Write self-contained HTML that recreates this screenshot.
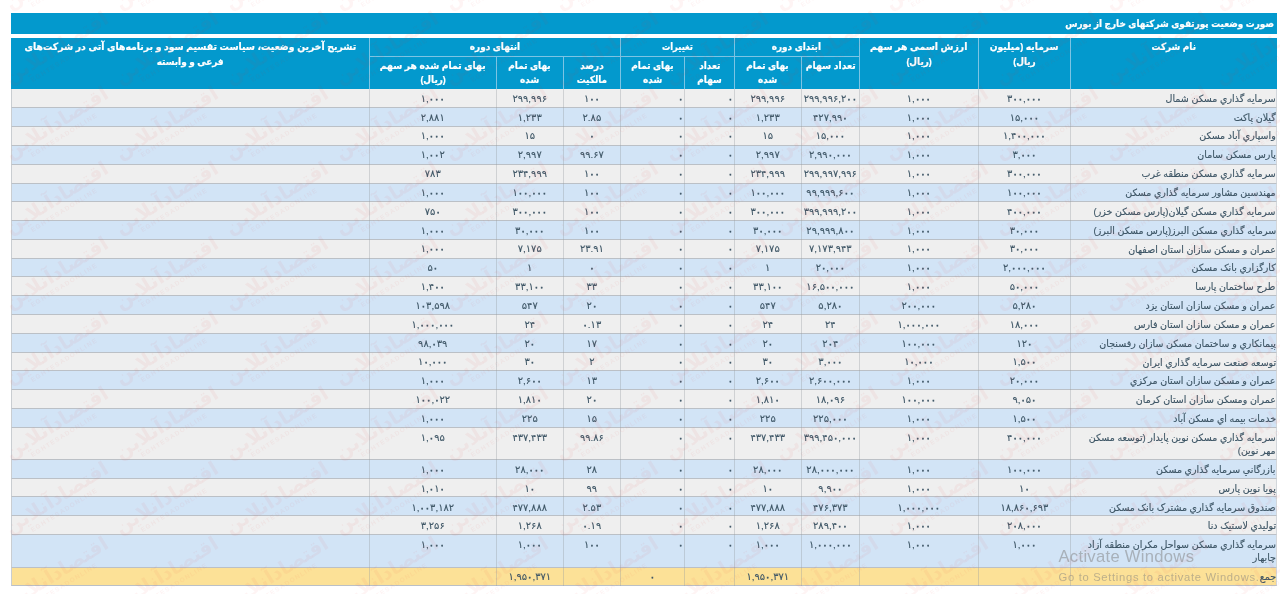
<!DOCTYPE html>
<html lang="fa" dir="ltr">
<head>
<meta charset="utf-8">
<title>صورت وضعیت پورتفوی شرکتهای خارج از بورس</title>
<style>
html,body{margin:0;padding:0;background:#fff;}
body{width:1280px;height:594px;overflow:hidden;font-family:"Liberation Sans","DejaVu Sans",sans-serif;}
#pg{position:relative;width:1280px;height:594px;overflow:hidden;background:#fff;}
#title{-webkit-text-stroke:.22px #fff;position:absolute;left:10.5px;top:12.5px;width:1266.1px;height:21.3px;background:#0399cd;color:#fff;font-weight:bold;font-size:9.9px;line-height:21.3px;text-align:right;direction:rtl;box-sizing:border-box;padding-right:2.5px;}
#hbg{position:absolute;background:#0399cd;}
.h{position:absolute;color:#fff;font-weight:bold;font-size:9.9px;line-height:14.2px;text-align:center;direction:rtl;box-sizing:border-box;padding-top:2.1px;overflow:hidden;white-space:nowrap;-webkit-text-stroke:.22px #fff;}
.h2{padding-top:3.0px;}
.hv{position:absolute;width:1px;background:#7cc4e4;}
.hh{position:absolute;height:1px;background:#7cc4e4;}
.row{position:absolute;left:10.5px;width:1266.3px;box-sizing:border-box;border-bottom:1px solid #bbc0c6;border-left:1px solid #c9cdd1;border-right:1px solid #d3d7db;}
.ra{background:#efefef;}
.rb{background:#d2e4f6;}
.rt{background:#fce197;}
.c{position:absolute;color:#3e5666;font-size:9.9px;line-height:17.5px;padding-top:0px;box-sizing:border-box;white-space:nowrap;overflow:hidden;direction:rtl;}
.nu{text-align:center;-webkit-text-stroke:.12px #3e5666;}
.zr{text-align:right;padding-right:1.3px;}
.nm{text-align:right;padding-right:.9px;-webkit-text-stroke:.15px #3e5666;line-height:13.1px;padding-top:2.1px;}
.vl{position:absolute;width:1px;background:rgba(150,155,160,.36);}
#aw1{position:absolute;left:1058.5px;top:547.3px;font-size:16.6px;letter-spacing:.3px;color:rgba(125,125,125,.5);white-space:nowrap;}
#aw2{position:absolute;left:1058.5px;top:570.5px;font-size:11.2px;letter-spacing:.7px;color:rgba(125,125,125,.5);white-space:nowrap;}
.h span,#title span{display:inline-block;transform:scaleX(.9);transform-origin:50% 50%;}
#title span{transform-origin:100% 50%;}
.nm span{display:inline-block;transform:scaleX(.96);transform-origin:100% 50%;}
#wm2{position:absolute;left:0;top:0;width:1280px;height:594px;overflow:hidden;pointer-events:none;}
.w{position:absolute;width:130px;height:40px;margin:-20px 0 0 -65px;transform:rotate(-32deg);text-align:center;color:rgba(232,50,50,.055);direction:rtl;white-space:nowrap;}
.w b{display:block;font-size:19.5px;line-height:22px;font-weight:bold;}
.w i{display:block;font-style:normal;font-size:6.5px;line-height:7px;letter-spacing:1.2px;direction:ltr;font-weight:bold;}
.c b{font-weight:normal;-webkit-text-stroke:.55px #3e5666;}

</style>
</head>
<body>
<div id="pg">

<div id="title"><span>صورت وضعیت پورتفوی شرکتهای خارج از بورس</span></div>
<div id="hbg" style="left:10.50px;top:38.30px;width:1266.10px;height:50.30px"></div>
<div class="h " style="left:1070.50px;top:38.30px;width:206.10px;height:50.30px"><span>نام شرکت</span></div>
<div class="h " style="left:978.25px;top:38.30px;width:92.25px;height:50.30px"><span style="transform:scaleX(0.926)">سرمایه (میلیون</span><br><span>ریال)</span></div>
<div class="h " style="left:859.40px;top:38.30px;width:118.85px;height:50.30px"><span style="transform:scaleX(0.9435)">ارزش اسمی هر سهم</span><br><span>(ریال)</span></div>
<div class="h " style="left:734.25px;top:38.30px;width:125.15px;height:17.95px"><span>ابتدای دوره</span></div>
<div class="h h2" style="left:801.25px;top:56.25px;width:58.15px;height:32.35px"><span style="transform:scaleX(0.9375)">تعداد سهام</span></div>
<div class="h h2" style="left:734.25px;top:56.25px;width:67.00px;height:32.35px"><span>بهای تمام</span><br><span>شده</span></div>
<div class="h " style="left:620.50px;top:38.30px;width:113.75px;height:17.95px"><span style="transform:scaleX(0.843)">تغییرات</span></div>
<div class="h h2" style="left:684.50px;top:56.25px;width:49.75px;height:32.35px"><span>تعداد</span><br><span>سهام</span></div>
<div class="h h2" style="left:620.50px;top:56.25px;width:64.00px;height:32.35px"><span>بهای تمام</span><br><span>شده</span></div>
<div class="h " style="left:369.25px;top:38.30px;width:251.25px;height:17.95px"><span>انتهای دوره</span></div>
<div class="h h2" style="left:563.25px;top:56.25px;width:57.25px;height:32.35px"><span>درصد</span><br><span>مالکیت</span></div>
<div class="h h2" style="left:496.25px;top:56.25px;width:67.00px;height:32.35px"><span>بهای تمام</span><br><span>شده</span></div>
<div class="h h2" style="left:369.25px;top:56.25px;width:127.00px;height:32.35px"><span style="transform:scaleX(0.932)">بهای تمام شده هر سهم</span><br><span>(ریال)</span></div>
<div class="h " style="left:10.50px;top:38.30px;width:358.75px;height:50.30px"><span style="transform:scaleX(0.94)">تشریح آخرین وضعیت، سیاست تقسیم سود و برنامه‌های آتی در شرکت‌های</span><br><span>فرعی و وابسته</span></div>
<div class="hv" style="left:368.75px;top:38.30px;height:50.30px"></div>
<div class="hv" style="left:495.75px;top:56.25px;height:32.35px"></div>
<div class="hv" style="left:562.75px;top:56.25px;height:32.35px"></div>
<div class="hv" style="left:620.00px;top:38.30px;height:50.30px"></div>
<div class="hv" style="left:684.00px;top:56.25px;height:32.35px"></div>
<div class="hv" style="left:733.75px;top:38.30px;height:50.30px"></div>
<div class="hv" style="left:800.75px;top:56.25px;height:32.35px"></div>
<div class="hv" style="left:858.90px;top:38.30px;height:50.30px"></div>
<div class="hv" style="left:977.75px;top:38.30px;height:50.30px"></div>
<div class="hv" style="left:1070.00px;top:38.30px;height:50.30px"></div>
<div class="hh" style="left:369.25px;top:55.75px;width:251.25px"></div>
<div class="hh" style="left:620.50px;top:55.75px;width:113.75px"></div>
<div class="hh" style="left:734.25px;top:55.75px;width:125.15px"></div>
<div class="row ra" style="top:88.60px;height:19.79px"></div>
<div class="c nu" style="left:369.25px;top:89.70px;width:127.00px;height:19.78px;"><span>۱,<b>۰۰۰</b></span></div>
<div class="c nu" style="left:496.25px;top:89.70px;width:67.00px;height:19.78px;"><span>۲۹۹,۹۹۶</span></div>
<div class="c nu" style="left:563.25px;top:89.70px;width:57.25px;height:19.78px;"><span>۱<b>۰۰</b></span></div>
<div class="c zr" style="left:620.50px;top:89.70px;width:64.00px;height:19.78px;"><span><b>۰</b></span></div>
<div class="c zr" style="left:684.50px;top:89.70px;width:49.75px;height:19.78px;"><span><b>۰</b></span></div>
<div class="c nu" style="left:734.25px;top:89.70px;width:67.00px;height:19.78px;"><span>۲۹۹,۹۹۶</span></div>
<div class="c nu" style="left:801.25px;top:89.70px;width:58.15px;height:19.78px;"><span>۲۹۹,۹۹۶,۲<b>۰۰</b></span></div>
<div class="c nu" style="left:859.40px;top:89.70px;width:118.85px;height:19.78px;"><span>۱,<b>۰۰۰</b></span></div>
<div class="c nu" style="left:978.25px;top:89.70px;width:92.25px;height:19.78px;"><span>۳<b>۰۰</b>,<b>۰۰۰</b></span></div>
<div class="c nm" style="left:1070.50px;top:89.70px;width:206.10px;height:19.78px;"><span>سرمايه گذاري مسکن شمال</span></div>
<div class="row rb" style="top:108.38px;height:18.79px"></div>
<div class="c nu" style="left:369.25px;top:108.54px;width:127.00px;height:18.78px;"><span>۲,۸۸۱</span></div>
<div class="c nu" style="left:496.25px;top:108.54px;width:67.00px;height:18.78px;"><span>۱,۲۳۳</span></div>
<div class="c nu" style="left:563.25px;top:108.54px;width:57.25px;height:18.78px;"><span>۲.۸۵</span></div>
<div class="c zr" style="left:620.50px;top:108.54px;width:64.00px;height:18.78px;"><span><b>۰</b></span></div>
<div class="c zr" style="left:684.50px;top:108.54px;width:49.75px;height:18.78px;"><span><b>۰</b></span></div>
<div class="c nu" style="left:734.25px;top:108.54px;width:67.00px;height:18.78px;"><span>۱,۲۳۳</span></div>
<div class="c nu" style="left:801.25px;top:108.54px;width:58.15px;height:18.78px;"><span>۴۲۷,۹۹<b>۰</b></span></div>
<div class="c nu" style="left:859.40px;top:108.54px;width:118.85px;height:18.78px;"><span>۱,<b>۰۰۰</b></span></div>
<div class="c nu" style="left:978.25px;top:108.54px;width:92.25px;height:18.78px;"><span>۱۵,<b>۰۰۰</b></span></div>
<div class="c nm" style="left:1070.50px;top:108.54px;width:206.10px;height:18.78px;"><span>گيلان پاکت</span></div>
<div class="row ra" style="top:127.17px;height:18.79px"></div>
<div class="c nu" style="left:369.25px;top:127.38px;width:127.00px;height:18.78px;"><span>۱,<b>۰۰۰</b></span></div>
<div class="c nu" style="left:496.25px;top:127.38px;width:67.00px;height:18.78px;"><span>۱۵</span></div>
<div class="c nu" style="left:563.25px;top:127.38px;width:57.25px;height:18.78px;"><span><b>۰</b></span></div>
<div class="c zr" style="left:620.50px;top:127.38px;width:64.00px;height:18.78px;"><span><b>۰</b></span></div>
<div class="c zr" style="left:684.50px;top:127.38px;width:49.75px;height:18.78px;"><span><b>۰</b></span></div>
<div class="c nu" style="left:734.25px;top:127.38px;width:67.00px;height:18.78px;"><span>۱۵</span></div>
<div class="c nu" style="left:801.25px;top:127.38px;width:58.15px;height:18.78px;"><span>۱۵,<b>۰۰۰</b></span></div>
<div class="c nu" style="left:859.40px;top:127.38px;width:118.85px;height:18.78px;"><span>۱,<b>۰۰۰</b></span></div>
<div class="c nu" style="left:978.25px;top:127.38px;width:92.25px;height:18.78px;"><span>۱,۴<b>۰۰</b>,<b>۰۰۰</b></span></div>
<div class="c nm" style="left:1070.50px;top:127.38px;width:206.10px;height:18.78px;"><span>واسپاري آباد مسکن</span></div>
<div class="row rb" style="top:145.95px;height:18.79px"></div>
<div class="c nu" style="left:369.25px;top:146.22px;width:127.00px;height:18.78px;"><span>۱,<b>۰۰</b>۲</span></div>
<div class="c nu" style="left:496.25px;top:146.22px;width:67.00px;height:18.78px;"><span>۲,۹۹۷</span></div>
<div class="c nu" style="left:563.25px;top:146.22px;width:57.25px;height:18.78px;"><span>۹۹.۶۷</span></div>
<div class="c zr" style="left:620.50px;top:146.22px;width:64.00px;height:18.78px;"><span><b>۰</b></span></div>
<div class="c zr" style="left:684.50px;top:146.22px;width:49.75px;height:18.78px;"><span><b>۰</b></span></div>
<div class="c nu" style="left:734.25px;top:146.22px;width:67.00px;height:18.78px;"><span>۲,۹۹۷</span></div>
<div class="c nu" style="left:801.25px;top:146.22px;width:58.15px;height:18.78px;"><span>۲,۹۹<b>۰</b>,<b>۰۰۰</b></span></div>
<div class="c nu" style="left:859.40px;top:146.22px;width:118.85px;height:18.78px;"><span>۱,<b>۰۰۰</b></span></div>
<div class="c nu" style="left:978.25px;top:146.22px;width:92.25px;height:18.78px;"><span>۳,<b>۰۰۰</b></span></div>
<div class="c nm" style="left:1070.50px;top:146.22px;width:206.10px;height:18.78px;"><span>پارس مسکن سامان</span></div>
<div class="row ra" style="top:164.74px;height:18.79px"></div>
<div class="c nu" style="left:369.25px;top:165.06px;width:127.00px;height:18.78px;"><span>۷۸۳</span></div>
<div class="c nu" style="left:496.25px;top:165.06px;width:67.00px;height:18.78px;"><span>۲۳۴,۹۹۹</span></div>
<div class="c nu" style="left:563.25px;top:165.06px;width:57.25px;height:18.78px;"><span>۱<b>۰۰</b></span></div>
<div class="c zr" style="left:620.50px;top:165.06px;width:64.00px;height:18.78px;"><span><b>۰</b></span></div>
<div class="c zr" style="left:684.50px;top:165.06px;width:49.75px;height:18.78px;"><span><b>۰</b></span></div>
<div class="c nu" style="left:734.25px;top:165.06px;width:67.00px;height:18.78px;"><span>۲۳۴,۹۹۹</span></div>
<div class="c nu" style="left:801.25px;top:165.06px;width:58.15px;height:18.78px;"><span>۲۹۹,۹۹۷,۹۹۶</span></div>
<div class="c nu" style="left:859.40px;top:165.06px;width:118.85px;height:18.78px;"><span>۱,<b>۰۰۰</b></span></div>
<div class="c nu" style="left:978.25px;top:165.06px;width:92.25px;height:18.78px;"><span>۳<b>۰۰</b>,<b>۰۰۰</b></span></div>
<div class="c nm" style="left:1070.50px;top:165.06px;width:206.10px;height:18.78px;"><span>سرمايه گذاري مسکن منطقه غرب</span></div>
<div class="row rb" style="top:183.52px;height:18.79px"></div>
<div class="c nu" style="left:369.25px;top:183.90px;width:127.00px;height:18.78px;"><span>۱,<b>۰۰۰</b></span></div>
<div class="c nu" style="left:496.25px;top:183.90px;width:67.00px;height:18.78px;"><span>۱<b>۰۰</b>,<b>۰۰۰</b></span></div>
<div class="c nu" style="left:563.25px;top:183.90px;width:57.25px;height:18.78px;"><span>۱<b>۰۰</b></span></div>
<div class="c zr" style="left:620.50px;top:183.90px;width:64.00px;height:18.78px;"><span><b>۰</b></span></div>
<div class="c zr" style="left:684.50px;top:183.90px;width:49.75px;height:18.78px;"><span><b>۰</b></span></div>
<div class="c nu" style="left:734.25px;top:183.90px;width:67.00px;height:18.78px;"><span>۱<b>۰۰</b>,<b>۰۰۰</b></span></div>
<div class="c nu" style="left:801.25px;top:183.90px;width:58.15px;height:18.78px;"><span>۹۹,۹۹۹,۶<b>۰۰</b></span></div>
<div class="c nu" style="left:859.40px;top:183.90px;width:118.85px;height:18.78px;"><span>۱,<b>۰۰۰</b></span></div>
<div class="c nu" style="left:978.25px;top:183.90px;width:92.25px;height:18.78px;"><span>۱<b>۰۰</b>,<b>۰۰۰</b></span></div>
<div class="c nm" style="left:1070.50px;top:183.90px;width:206.10px;height:18.78px;"><span>مهندسين مشاور سرمايه گذاري مسکن</span></div>
<div class="row ra" style="top:202.31px;height:18.79px"></div>
<div class="c nu" style="left:369.25px;top:202.74px;width:127.00px;height:18.78px;"><span>۷۵<b>۰</b></span></div>
<div class="c nu" style="left:496.25px;top:202.74px;width:67.00px;height:18.78px;"><span>۳<b>۰۰</b>,<b>۰۰۰</b></span></div>
<div class="c nu" style="left:563.25px;top:202.74px;width:57.25px;height:18.78px;"><span>۱<b>۰۰</b></span></div>
<div class="c zr" style="left:620.50px;top:202.74px;width:64.00px;height:18.78px;"><span><b>۰</b></span></div>
<div class="c zr" style="left:684.50px;top:202.74px;width:49.75px;height:18.78px;"><span><b>۰</b></span></div>
<div class="c nu" style="left:734.25px;top:202.74px;width:67.00px;height:18.78px;"><span>۳<b>۰۰</b>,<b>۰۰۰</b></span></div>
<div class="c nu" style="left:801.25px;top:202.74px;width:58.15px;height:18.78px;"><span>۳۹۹,۹۹۹,۲<b>۰۰</b></span></div>
<div class="c nu" style="left:859.40px;top:202.74px;width:118.85px;height:18.78px;"><span>۱,<b>۰۰۰</b></span></div>
<div class="c nu" style="left:978.25px;top:202.74px;width:92.25px;height:18.78px;"><span>۴<b>۰۰</b>,<b>۰۰۰</b></span></div>
<div class="c nm" style="left:1070.50px;top:202.74px;width:206.10px;height:18.78px;"><span>سرمايه گذاري مسکن گيلان(پارس مسکن خزر)</span></div>
<div class="row rb" style="top:221.09px;height:18.79px"></div>
<div class="c nu" style="left:369.25px;top:221.58px;width:127.00px;height:18.78px;"><span>۱,<b>۰۰۰</b></span></div>
<div class="c nu" style="left:496.25px;top:221.58px;width:67.00px;height:18.78px;"><span>۳<b>۰</b>,<b>۰۰۰</b></span></div>
<div class="c nu" style="left:563.25px;top:221.58px;width:57.25px;height:18.78px;"><span>۱<b>۰۰</b></span></div>
<div class="c zr" style="left:620.50px;top:221.58px;width:64.00px;height:18.78px;"><span><b>۰</b></span></div>
<div class="c zr" style="left:684.50px;top:221.58px;width:49.75px;height:18.78px;"><span><b>۰</b></span></div>
<div class="c nu" style="left:734.25px;top:221.58px;width:67.00px;height:18.78px;"><span>۳<b>۰</b>,<b>۰۰۰</b></span></div>
<div class="c nu" style="left:801.25px;top:221.58px;width:58.15px;height:18.78px;"><span>۲۹,۹۹۹,۸<b>۰۰</b></span></div>
<div class="c nu" style="left:859.40px;top:221.58px;width:118.85px;height:18.78px;"><span>۱,<b>۰۰۰</b></span></div>
<div class="c nu" style="left:978.25px;top:221.58px;width:92.25px;height:18.78px;"><span>۳<b>۰</b>,<b>۰۰۰</b></span></div>
<div class="c nm" style="left:1070.50px;top:221.58px;width:206.10px;height:18.78px;"><span>سرمايه گذاري مسکن البرز(پارس مسکن البرز)</span></div>
<div class="row ra" style="top:239.88px;height:18.79px"></div>
<div class="c nu" style="left:369.25px;top:240.42px;width:127.00px;height:18.78px;"><span>۱,<b>۰۰۰</b></span></div>
<div class="c nu" style="left:496.25px;top:240.42px;width:67.00px;height:18.78px;"><span>۷,۱۷۵</span></div>
<div class="c nu" style="left:563.25px;top:240.42px;width:57.25px;height:18.78px;"><span>۲۳.۹۱</span></div>
<div class="c zr" style="left:620.50px;top:240.42px;width:64.00px;height:18.78px;"><span><b>۰</b></span></div>
<div class="c zr" style="left:684.50px;top:240.42px;width:49.75px;height:18.78px;"><span><b>۰</b></span></div>
<div class="c nu" style="left:734.25px;top:240.42px;width:67.00px;height:18.78px;"><span>۷,۱۷۵</span></div>
<div class="c nu" style="left:801.25px;top:240.42px;width:58.15px;height:18.78px;"><span>۷,۱۷۳,۹۴۳</span></div>
<div class="c nu" style="left:859.40px;top:240.42px;width:118.85px;height:18.78px;"><span>۱,<b>۰۰۰</b></span></div>
<div class="c nu" style="left:978.25px;top:240.42px;width:92.25px;height:18.78px;"><span>۳<b>۰</b>,<b>۰۰۰</b></span></div>
<div class="c nm" style="left:1070.50px;top:240.42px;width:206.10px;height:18.78px;"><span>عمران و مسکن سازان استان اصفهان</span></div>
<div class="row rb" style="top:258.66px;height:18.79px"></div>
<div class="c nu" style="left:369.25px;top:259.26px;width:127.00px;height:18.79px;"><span>۵<b>۰</b></span></div>
<div class="c nu" style="left:496.25px;top:259.26px;width:67.00px;height:18.79px;"><span>۱</span></div>
<div class="c nu" style="left:563.25px;top:259.26px;width:57.25px;height:18.79px;"><span><b>۰</b></span></div>
<div class="c zr" style="left:620.50px;top:259.26px;width:64.00px;height:18.79px;"><span><b>۰</b></span></div>
<div class="c zr" style="left:684.50px;top:259.26px;width:49.75px;height:18.79px;"><span><b>۰</b></span></div>
<div class="c nu" style="left:734.25px;top:259.26px;width:67.00px;height:18.79px;"><span>۱</span></div>
<div class="c nu" style="left:801.25px;top:259.26px;width:58.15px;height:18.79px;"><span>۲<b>۰</b>,<b>۰۰۰</b></span></div>
<div class="c nu" style="left:859.40px;top:259.26px;width:118.85px;height:18.79px;"><span>۱,<b>۰۰۰</b></span></div>
<div class="c nu" style="left:978.25px;top:259.26px;width:92.25px;height:18.79px;"><span>۲,<b>۰۰۰</b>,<b>۰۰۰</b></span></div>
<div class="c nm" style="left:1070.50px;top:259.26px;width:206.10px;height:18.79px;"><span>کارگزاري بانک مسکن</span></div>
<div class="row ra" style="top:277.45px;height:18.79px"></div>
<div class="c nu" style="left:369.25px;top:278.10px;width:127.00px;height:18.79px;"><span>۱,۴<b>۰۰</b></span></div>
<div class="c nu" style="left:496.25px;top:278.10px;width:67.00px;height:18.79px;"><span>۳۳,۱<b>۰۰</b></span></div>
<div class="c nu" style="left:563.25px;top:278.10px;width:57.25px;height:18.79px;"><span>۳۳</span></div>
<div class="c zr" style="left:620.50px;top:278.10px;width:64.00px;height:18.79px;"><span><b>۰</b></span></div>
<div class="c zr" style="left:684.50px;top:278.10px;width:49.75px;height:18.79px;"><span><b>۰</b></span></div>
<div class="c nu" style="left:734.25px;top:278.10px;width:67.00px;height:18.79px;"><span>۳۳,۱<b>۰۰</b></span></div>
<div class="c nu" style="left:801.25px;top:278.10px;width:58.15px;height:18.79px;"><span>۱۶,۵<b>۰۰</b>,<b>۰۰۰</b></span></div>
<div class="c nu" style="left:859.40px;top:278.10px;width:118.85px;height:18.79px;"><span>۱,<b>۰۰۰</b></span></div>
<div class="c nu" style="left:978.25px;top:278.10px;width:92.25px;height:18.79px;"><span>۵<b>۰</b>,<b>۰۰۰</b></span></div>
<div class="c nm" style="left:1070.50px;top:278.10px;width:206.10px;height:18.79px;"><span>طرح ساختمان پارسا</span></div>
<div class="row rb" style="top:296.24px;height:18.79px"></div>
<div class="c nu" style="left:369.25px;top:296.94px;width:127.00px;height:18.79px;"><span>۱<b>۰</b>۳,۵۹۸</span></div>
<div class="c nu" style="left:496.25px;top:296.94px;width:67.00px;height:18.79px;"><span>۵۴۷</span></div>
<div class="c nu" style="left:563.25px;top:296.94px;width:57.25px;height:18.79px;"><span>۲<b>۰</b></span></div>
<div class="c zr" style="left:620.50px;top:296.94px;width:64.00px;height:18.79px;"><span><b>۰</b></span></div>
<div class="c zr" style="left:684.50px;top:296.94px;width:49.75px;height:18.79px;"><span><b>۰</b></span></div>
<div class="c nu" style="left:734.25px;top:296.94px;width:67.00px;height:18.79px;"><span>۵۴۷</span></div>
<div class="c nu" style="left:801.25px;top:296.94px;width:58.15px;height:18.79px;"><span>۵,۲۸<b>۰</b></span></div>
<div class="c nu" style="left:859.40px;top:296.94px;width:118.85px;height:18.79px;"><span>۲<b>۰۰</b>,<b>۰۰۰</b></span></div>
<div class="c nu" style="left:978.25px;top:296.94px;width:92.25px;height:18.79px;"><span>۵,۲۸<b>۰</b></span></div>
<div class="c nm" style="left:1070.50px;top:296.94px;width:206.10px;height:18.79px;"><span>عمران و مسکن سازان استان يزد</span></div>
<div class="row ra" style="top:315.02px;height:18.79px"></div>
<div class="c nu" style="left:369.25px;top:315.78px;width:127.00px;height:18.79px;"><span>۱,<b>۰۰۰</b>,<b>۰۰۰</b></span></div>
<div class="c nu" style="left:496.25px;top:315.78px;width:67.00px;height:18.79px;"><span>۲۴</span></div>
<div class="c nu" style="left:563.25px;top:315.78px;width:57.25px;height:18.79px;"><span><b>۰</b>.۱۳</span></div>
<div class="c zr" style="left:620.50px;top:315.78px;width:64.00px;height:18.79px;"><span><b>۰</b></span></div>
<div class="c zr" style="left:684.50px;top:315.78px;width:49.75px;height:18.79px;"><span><b>۰</b></span></div>
<div class="c nu" style="left:734.25px;top:315.78px;width:67.00px;height:18.79px;"><span>۲۴</span></div>
<div class="c nu" style="left:801.25px;top:315.78px;width:58.15px;height:18.79px;"><span>۲۴</span></div>
<div class="c nu" style="left:859.40px;top:315.78px;width:118.85px;height:18.79px;"><span>۱,<b>۰۰۰</b>,<b>۰۰۰</b></span></div>
<div class="c nu" style="left:978.25px;top:315.78px;width:92.25px;height:18.79px;"><span>۱۸,<b>۰۰۰</b></span></div>
<div class="c nm" style="left:1070.50px;top:315.78px;width:206.10px;height:18.79px;"><span>عمران و مسکن سازان استان فارس</span></div>
<div class="row rb" style="top:333.81px;height:18.79px"></div>
<div class="c nu" style="left:369.25px;top:334.62px;width:127.00px;height:18.79px;"><span>۹۸,<b>۰</b>۳۹</span></div>
<div class="c nu" style="left:496.25px;top:334.62px;width:67.00px;height:18.79px;"><span>۲<b>۰</b></span></div>
<div class="c nu" style="left:563.25px;top:334.62px;width:57.25px;height:18.79px;"><span>۱۷</span></div>
<div class="c zr" style="left:620.50px;top:334.62px;width:64.00px;height:18.79px;"><span><b>۰</b></span></div>
<div class="c zr" style="left:684.50px;top:334.62px;width:49.75px;height:18.79px;"><span><b>۰</b></span></div>
<div class="c nu" style="left:734.25px;top:334.62px;width:67.00px;height:18.79px;"><span>۲<b>۰</b></span></div>
<div class="c nu" style="left:801.25px;top:334.62px;width:58.15px;height:18.79px;"><span>۲<b>۰</b>۴</span></div>
<div class="c nu" style="left:859.40px;top:334.62px;width:118.85px;height:18.79px;"><span>۱<b>۰۰</b>,<b>۰۰۰</b></span></div>
<div class="c nu" style="left:978.25px;top:334.62px;width:92.25px;height:18.79px;"><span>۱۲<b>۰</b></span></div>
<div class="c nm" style="left:1070.50px;top:334.62px;width:206.10px;height:18.79px;"><span>پيمانکاري و ساختمان مسکن سازان رفسنجان</span></div>
<div class="row ra" style="top:352.59px;height:18.79px"></div>
<div class="c nu" style="left:369.25px;top:353.46px;width:127.00px;height:18.79px;"><span>۱<b>۰</b>,<b>۰۰۰</b></span></div>
<div class="c nu" style="left:496.25px;top:353.46px;width:67.00px;height:18.79px;"><span>۳<b>۰</b></span></div>
<div class="c nu" style="left:563.25px;top:353.46px;width:57.25px;height:18.79px;"><span>۲</span></div>
<div class="c zr" style="left:620.50px;top:353.46px;width:64.00px;height:18.79px;"><span><b>۰</b></span></div>
<div class="c zr" style="left:684.50px;top:353.46px;width:49.75px;height:18.79px;"><span><b>۰</b></span></div>
<div class="c nu" style="left:734.25px;top:353.46px;width:67.00px;height:18.79px;"><span>۳<b>۰</b></span></div>
<div class="c nu" style="left:801.25px;top:353.46px;width:58.15px;height:18.79px;"><span>۳,<b>۰۰۰</b></span></div>
<div class="c nu" style="left:859.40px;top:353.46px;width:118.85px;height:18.79px;"><span>۱<b>۰</b>,<b>۰۰۰</b></span></div>
<div class="c nu" style="left:978.25px;top:353.46px;width:92.25px;height:18.79px;"><span>۱,۵<b>۰۰</b></span></div>
<div class="c nm" style="left:1070.50px;top:353.46px;width:206.10px;height:18.79px;"><span>توسعه صنعت سرمايه گذاري ايران</span></div>
<div class="row rb" style="top:371.38px;height:18.79px"></div>
<div class="c nu" style="left:369.25px;top:372.30px;width:127.00px;height:18.79px;"><span>۱,<b>۰۰۰</b></span></div>
<div class="c nu" style="left:496.25px;top:372.30px;width:67.00px;height:18.79px;"><span>۲,۶<b>۰۰</b></span></div>
<div class="c nu" style="left:563.25px;top:372.30px;width:57.25px;height:18.79px;"><span>۱۳</span></div>
<div class="c zr" style="left:620.50px;top:372.30px;width:64.00px;height:18.79px;"><span><b>۰</b></span></div>
<div class="c zr" style="left:684.50px;top:372.30px;width:49.75px;height:18.79px;"><span><b>۰</b></span></div>
<div class="c nu" style="left:734.25px;top:372.30px;width:67.00px;height:18.79px;"><span>۲,۶<b>۰۰</b></span></div>
<div class="c nu" style="left:801.25px;top:372.30px;width:58.15px;height:18.79px;"><span>۲,۶<b>۰۰</b>,<b>۰۰۰</b></span></div>
<div class="c nu" style="left:859.40px;top:372.30px;width:118.85px;height:18.79px;"><span>۱,<b>۰۰۰</b></span></div>
<div class="c nu" style="left:978.25px;top:372.30px;width:92.25px;height:18.79px;"><span>۲<b>۰</b>,<b>۰۰۰</b></span></div>
<div class="c nm" style="left:1070.50px;top:372.30px;width:206.10px;height:18.79px;"><span>عمران و مسکن سازان استان مرکزي</span></div>
<div class="row ra" style="top:390.16px;height:18.79px"></div>
<div class="c nu" style="left:369.25px;top:391.14px;width:127.00px;height:18.79px;"><span>۱<b>۰۰</b>,<b>۰</b>۲۲</span></div>
<div class="c nu" style="left:496.25px;top:391.14px;width:67.00px;height:18.79px;"><span>۱,۸۱<b>۰</b></span></div>
<div class="c nu" style="left:563.25px;top:391.14px;width:57.25px;height:18.79px;"><span>۲<b>۰</b></span></div>
<div class="c zr" style="left:620.50px;top:391.14px;width:64.00px;height:18.79px;"><span><b>۰</b></span></div>
<div class="c zr" style="left:684.50px;top:391.14px;width:49.75px;height:18.79px;"><span><b>۰</b></span></div>
<div class="c nu" style="left:734.25px;top:391.14px;width:67.00px;height:18.79px;"><span>۱,۸۱<b>۰</b></span></div>
<div class="c nu" style="left:801.25px;top:391.14px;width:58.15px;height:18.79px;"><span>۱۸,<b>۰</b>۹۶</span></div>
<div class="c nu" style="left:859.40px;top:391.14px;width:118.85px;height:18.79px;"><span>۱<b>۰۰</b>,<b>۰۰۰</b></span></div>
<div class="c nu" style="left:978.25px;top:391.14px;width:92.25px;height:18.79px;"><span>۹,<b>۰</b>۵<b>۰</b></span></div>
<div class="c nm" style="left:1070.50px;top:391.14px;width:206.10px;height:18.79px;"><span>عمران ومسکن سازان استان کرمان</span></div>
<div class="row rb" style="top:408.95px;height:18.79px"></div>
<div class="c nu" style="left:369.25px;top:409.98px;width:127.00px;height:18.79px;"><span>۱,<b>۰۰۰</b></span></div>
<div class="c nu" style="left:496.25px;top:409.98px;width:67.00px;height:18.79px;"><span>۲۲۵</span></div>
<div class="c nu" style="left:563.25px;top:409.98px;width:57.25px;height:18.79px;"><span>۱۵</span></div>
<div class="c zr" style="left:620.50px;top:409.98px;width:64.00px;height:18.79px;"><span><b>۰</b></span></div>
<div class="c zr" style="left:684.50px;top:409.98px;width:49.75px;height:18.79px;"><span><b>۰</b></span></div>
<div class="c nu" style="left:734.25px;top:409.98px;width:67.00px;height:18.79px;"><span>۲۲۵</span></div>
<div class="c nu" style="left:801.25px;top:409.98px;width:58.15px;height:18.79px;"><span>۲۲۵,<b>۰۰۰</b></span></div>
<div class="c nu" style="left:859.40px;top:409.98px;width:118.85px;height:18.79px;"><span>۱,<b>۰۰۰</b></span></div>
<div class="c nu" style="left:978.25px;top:409.98px;width:92.25px;height:18.79px;"><span>۱,۵<b>۰۰</b></span></div>
<div class="c nm" style="left:1070.50px;top:409.98px;width:206.10px;height:18.79px;"><span>خدمات بيمه اي مسکن آباد</span></div>
<div class="row ra" style="top:427.73px;height:32.00px"></div>
<div class="c nu" style="left:369.25px;top:428.82px;width:127.00px;height:32.00px;"><span>۱,<b>۰</b>۹۵</span></div>
<div class="c nu" style="left:496.25px;top:428.82px;width:67.00px;height:32.00px;"><span>۴۳۷,۴۳۳</span></div>
<div class="c nu" style="left:563.25px;top:428.82px;width:57.25px;height:32.00px;"><span>۹۹.۸۶</span></div>
<div class="c zr" style="left:620.50px;top:428.82px;width:64.00px;height:32.00px;"><span><b>۰</b></span></div>
<div class="c zr" style="left:684.50px;top:428.82px;width:49.75px;height:32.00px;"><span><b>۰</b></span></div>
<div class="c nu" style="left:734.25px;top:428.82px;width:67.00px;height:32.00px;"><span>۴۳۷,۴۳۳</span></div>
<div class="c nu" style="left:801.25px;top:428.82px;width:58.15px;height:32.00px;"><span>۳۹۹,۴۵<b>۰</b>,<b>۰۰۰</b></span></div>
<div class="c nu" style="left:859.40px;top:428.82px;width:118.85px;height:32.00px;"><span>۱,<b>۰۰۰</b></span></div>
<div class="c nu" style="left:978.25px;top:428.82px;width:92.25px;height:32.00px;"><span>۴<b>۰۰</b>,<b>۰۰۰</b></span></div>
<div class="c nm" style="left:1070.50px;top:428.82px;width:206.10px;height:32.00px;"><span>سرمايه گذاري مسکن نوين پايدار (توسعه مسکن<br>مهر نوين)</span></div>
<div class="row rb" style="top:459.73px;height:18.79px"></div>
<div class="c nu" style="left:369.25px;top:460.82px;width:127.00px;height:18.79px;"><span>۱,<b>۰۰۰</b></span></div>
<div class="c nu" style="left:496.25px;top:460.82px;width:67.00px;height:18.79px;"><span>۲۸,<b>۰۰۰</b></span></div>
<div class="c nu" style="left:563.25px;top:460.82px;width:57.25px;height:18.79px;"><span>۲۸</span></div>
<div class="c zr" style="left:620.50px;top:460.82px;width:64.00px;height:18.79px;"><span><b>۰</b></span></div>
<div class="c zr" style="left:684.50px;top:460.82px;width:49.75px;height:18.79px;"><span><b>۰</b></span></div>
<div class="c nu" style="left:734.25px;top:460.82px;width:67.00px;height:18.79px;"><span>۲۸,<b>۰۰۰</b></span></div>
<div class="c nu" style="left:801.25px;top:460.82px;width:58.15px;height:18.79px;"><span>۲۸,<b>۰۰۰</b>,<b>۰۰۰</b></span></div>
<div class="c nu" style="left:859.40px;top:460.82px;width:118.85px;height:18.79px;"><span>۱,<b>۰۰۰</b></span></div>
<div class="c nu" style="left:978.25px;top:460.82px;width:92.25px;height:18.79px;"><span>۱<b>۰۰</b>,<b>۰۰۰</b></span></div>
<div class="c nm" style="left:1070.50px;top:460.82px;width:206.10px;height:18.79px;"><span>بازرگاني سرمايه گذاري مسکن</span></div>
<div class="row ra" style="top:478.52px;height:18.79px"></div>
<div class="c nu" style="left:369.25px;top:479.66px;width:127.00px;height:18.79px;"><span>۱,<b>۰</b>۱<b>۰</b></span></div>
<div class="c nu" style="left:496.25px;top:479.66px;width:67.00px;height:18.79px;"><span>۱<b>۰</b></span></div>
<div class="c nu" style="left:563.25px;top:479.66px;width:57.25px;height:18.79px;"><span>۹۹</span></div>
<div class="c zr" style="left:620.50px;top:479.66px;width:64.00px;height:18.79px;"><span><b>۰</b></span></div>
<div class="c zr" style="left:684.50px;top:479.66px;width:49.75px;height:18.79px;"><span><b>۰</b></span></div>
<div class="c nu" style="left:734.25px;top:479.66px;width:67.00px;height:18.79px;"><span>۱<b>۰</b></span></div>
<div class="c nu" style="left:801.25px;top:479.66px;width:58.15px;height:18.79px;"><span>۹,۹<b>۰۰</b></span></div>
<div class="c nu" style="left:859.40px;top:479.66px;width:118.85px;height:18.79px;"><span>۱,<b>۰۰۰</b></span></div>
<div class="c nu" style="left:978.25px;top:479.66px;width:92.25px;height:18.79px;"><span>۱<b>۰</b></span></div>
<div class="c nm" style="left:1070.50px;top:479.66px;width:206.10px;height:18.79px;"><span>پويا نوين پارس</span></div>
<div class="row rb" style="top:497.30px;height:18.79px"></div>
<div class="c nu" style="left:369.25px;top:498.50px;width:127.00px;height:18.78px;"><span>۱,<b>۰۰</b>۳,۱۸۲</span></div>
<div class="c nu" style="left:496.25px;top:498.50px;width:67.00px;height:18.78px;"><span>۴۷۷,۸۸۸</span></div>
<div class="c nu" style="left:563.25px;top:498.50px;width:57.25px;height:18.78px;"><span>۲.۵۳</span></div>
<div class="c zr" style="left:620.50px;top:498.50px;width:64.00px;height:18.78px;"><span><b>۰</b></span></div>
<div class="c zr" style="left:684.50px;top:498.50px;width:49.75px;height:18.78px;"><span><b>۰</b></span></div>
<div class="c nu" style="left:734.25px;top:498.50px;width:67.00px;height:18.78px;"><span>۴۷۷,۸۸۸</span></div>
<div class="c nu" style="left:801.25px;top:498.50px;width:58.15px;height:18.78px;"><span>۴۷۶,۳۷۳</span></div>
<div class="c nu" style="left:859.40px;top:498.50px;width:118.85px;height:18.78px;"><span>۱,<b>۰۰۰</b>,<b>۰۰۰</b></span></div>
<div class="c nu" style="left:978.25px;top:498.50px;width:92.25px;height:18.78px;"><span>۱۸,۸۶<b>۰</b>,۶۹۳</span></div>
<div class="c nm" style="left:1070.50px;top:498.50px;width:206.10px;height:18.78px;"><span>صندوق سرمايه گذاري مشترک بانک مسکن</span></div>
<div class="row ra" style="top:516.09px;height:18.79px"></div>
<div class="c nu" style="left:369.25px;top:517.34px;width:127.00px;height:18.78px;"><span>۳,۲۵۶</span></div>
<div class="c nu" style="left:496.25px;top:517.34px;width:67.00px;height:18.78px;"><span>۱,۲۶۸</span></div>
<div class="c nu" style="left:563.25px;top:517.34px;width:57.25px;height:18.78px;"><span><b>۰</b>.۱۹</span></div>
<div class="c zr" style="left:620.50px;top:517.34px;width:64.00px;height:18.78px;"><span><b>۰</b></span></div>
<div class="c zr" style="left:684.50px;top:517.34px;width:49.75px;height:18.78px;"><span><b>۰</b></span></div>
<div class="c nu" style="left:734.25px;top:517.34px;width:67.00px;height:18.78px;"><span>۱,۲۶۸</span></div>
<div class="c nu" style="left:801.25px;top:517.34px;width:58.15px;height:18.78px;"><span>۲۸۹,۴<b>۰۰</b></span></div>
<div class="c nu" style="left:859.40px;top:517.34px;width:118.85px;height:18.78px;"><span>۱,<b>۰۰۰</b></span></div>
<div class="c nu" style="left:978.25px;top:517.34px;width:92.25px;height:18.78px;"><span>۲<b>۰</b>۸,<b>۰۰۰</b></span></div>
<div class="c nm" style="left:1070.50px;top:517.34px;width:206.10px;height:18.78px;"><span>توليدي لاستيک دنا</span></div>
<div class="row rb" style="top:534.87px;height:32.70px"></div>
<div class="c nu" style="left:369.25px;top:536.18px;width:127.00px;height:32.70px;"><span>۱,<b>۰۰۰</b></span></div>
<div class="c nu" style="left:496.25px;top:536.18px;width:67.00px;height:32.70px;"><span>۱,<b>۰۰۰</b></span></div>
<div class="c nu" style="left:563.25px;top:536.18px;width:57.25px;height:32.70px;"><span>۱<b>۰۰</b></span></div>
<div class="c zr" style="left:620.50px;top:536.18px;width:64.00px;height:32.70px;"><span><b>۰</b></span></div>
<div class="c zr" style="left:684.50px;top:536.18px;width:49.75px;height:32.70px;"><span><b>۰</b></span></div>
<div class="c nu" style="left:734.25px;top:536.18px;width:67.00px;height:32.70px;"><span>۱,<b>۰۰۰</b></span></div>
<div class="c nu" style="left:801.25px;top:536.18px;width:58.15px;height:32.70px;"><span>۱,<b>۰۰۰</b>,<b>۰۰۰</b></span></div>
<div class="c nu" style="left:859.40px;top:536.18px;width:118.85px;height:32.70px;"><span>۱,<b>۰۰۰</b></span></div>
<div class="c nu" style="left:978.25px;top:536.18px;width:92.25px;height:32.70px;"><span>۱,<b>۰۰۰</b></span></div>
<div class="c nm" style="left:1070.50px;top:536.18px;width:206.10px;height:32.70px;"><span>سرمايه گذاري مسکن سواحل مکران منطقه آزاد<br>چابهار</span></div>
<div class="row rt" style="top:567.57px;height:18.30px"></div>
<div class="c nm" style="left:1070.50px;top:567.57px;width:206.10px;height:18.30px;"><span>جمع</span></div>
<div class="c nu" style="left:734.25px;top:567.57px;width:67.00px;height:18.30px;"><span>۱,۹۵<b>۰</b>,۳۷۱</span></div>
<div class="c nu" style="left:620.50px;top:567.57px;width:64.00px;height:18.30px;"><span><b>۰</b></span></div>
<div class="c nu" style="left:496.25px;top:567.57px;width:67.00px;height:18.30px;"><span>۱,۹۵<b>۰</b>,۳۷۱</span></div>
<div class="vl" style="left:368.75px;top:88.60px;height:497.27px"></div>
<div class="vl" style="left:495.75px;top:88.60px;height:497.27px"></div>
<div class="vl" style="left:562.75px;top:88.60px;height:497.27px"></div>
<div class="vl" style="left:620.00px;top:88.60px;height:497.27px"></div>
<div class="vl" style="left:684.00px;top:88.60px;height:497.27px"></div>
<div class="vl" style="left:733.75px;top:88.60px;height:497.27px"></div>
<div class="vl" style="left:800.75px;top:88.60px;height:497.27px"></div>
<div class="vl" style="left:858.90px;top:88.60px;height:497.27px"></div>
<div class="vl" style="left:977.75px;top:88.60px;height:497.27px"></div>
<div class="vl" style="left:1070.00px;top:88.60px;height:497.27px"></div>
<div id="wm2"><div class="w" style="left:-49px;top:-20px"><b>اقتصادآنلاین</b><i>EGHTESADONLINE</i></div><div class="w" style="left:61px;top:-20px"><b>اقتصادآنلاین</b><i>EGHTESADONLINE</i></div><div class="w" style="left:171px;top:-20px"><b>اقتصادآنلاین</b><i>EGHTESADONLINE</i></div><div class="w" style="left:281px;top:-20px"><b>اقتصادآنلاین</b><i>EGHTESADONLINE</i></div><div class="w" style="left:391px;top:-20px"><b>اقتصادآنلاین</b><i>EGHTESADONLINE</i></div><div class="w" style="left:501px;top:-20px"><b>اقتصادآنلاین</b><i>EGHTESADONLINE</i></div><div class="w" style="left:611px;top:-20px"><b>اقتصادآنلاین</b><i>EGHTESADONLINE</i></div><div class="w" style="left:721px;top:-20px"><b>اقتصادآنلاین</b><i>EGHTESADONLINE</i></div><div class="w" style="left:831px;top:-20px"><b>اقتصادآنلاین</b><i>EGHTESADONLINE</i></div><div class="w" style="left:941px;top:-20px"><b>اقتصادآنلاین</b><i>EGHTESADONLINE</i></div><div class="w" style="left:1051px;top:-20px"><b>اقتصادآنلاین</b><i>EGHTESADONLINE</i></div><div class="w" style="left:1161px;top:-20px"><b>اقتصادآنلاین</b><i>EGHTESADONLINE</i></div><div class="w" style="left:1271px;top:-20px"><b>اقتصادآنلاین</b><i>EGHTESADONLINE</i></div><div class="w" style="left:1381px;top:-20px"><b>اقتصادآنلاین</b><i>EGHTESADONLINE</i></div><div class="w" style="left:-49px;top:55px"><b>اقتصادآنلاین</b><i>EGHTESADONLINE</i></div><div class="w" style="left:61px;top:55px"><b>اقتصادآنلاین</b><i>EGHTESADONLINE</i></div><div class="w" style="left:171px;top:55px"><b>اقتصادآنلاین</b><i>EGHTESADONLINE</i></div><div class="w" style="left:281px;top:55px"><b>اقتصادآنلاین</b><i>EGHTESADONLINE</i></div><div class="w" style="left:391px;top:55px"><b>اقتصادآنلاین</b><i>EGHTESADONLINE</i></div><div class="w" style="left:501px;top:55px"><b>اقتصادآنلاین</b><i>EGHTESADONLINE</i></div><div class="w" style="left:611px;top:55px"><b>اقتصادآنلاین</b><i>EGHTESADONLINE</i></div><div class="w" style="left:721px;top:55px"><b>اقتصادآنلاین</b><i>EGHTESADONLINE</i></div><div class="w" style="left:831px;top:55px"><b>اقتصادآنلاین</b><i>EGHTESADONLINE</i></div><div class="w" style="left:941px;top:55px"><b>اقتصادآنلاین</b><i>EGHTESADONLINE</i></div><div class="w" style="left:1051px;top:55px"><b>اقتصادآنلاین</b><i>EGHTESADONLINE</i></div><div class="w" style="left:1161px;top:55px"><b>اقتصادآنلاین</b><i>EGHTESADONLINE</i></div><div class="w" style="left:1271px;top:55px"><b>اقتصادآنلاین</b><i>EGHTESADONLINE</i></div><div class="w" style="left:1381px;top:55px"><b>اقتصادآنلاین</b><i>EGHTESADONLINE</i></div><div class="w" style="left:-49px;top:130px"><b>اقتصادآنلاین</b><i>EGHTESADONLINE</i></div><div class="w" style="left:61px;top:130px"><b>اقتصادآنلاین</b><i>EGHTESADONLINE</i></div><div class="w" style="left:171px;top:130px"><b>اقتصادآنلاین</b><i>EGHTESADONLINE</i></div><div class="w" style="left:281px;top:130px"><b>اقتصادآنلاین</b><i>EGHTESADONLINE</i></div><div class="w" style="left:391px;top:130px"><b>اقتصادآنلاین</b><i>EGHTESADONLINE</i></div><div class="w" style="left:501px;top:130px"><b>اقتصادآنلاین</b><i>EGHTESADONLINE</i></div><div class="w" style="left:611px;top:130px"><b>اقتصادآنلاین</b><i>EGHTESADONLINE</i></div><div class="w" style="left:721px;top:130px"><b>اقتصادآنلاین</b><i>EGHTESADONLINE</i></div><div class="w" style="left:831px;top:130px"><b>اقتصادآنلاین</b><i>EGHTESADONLINE</i></div><div class="w" style="left:941px;top:130px"><b>اقتصادآنلاین</b><i>EGHTESADONLINE</i></div><div class="w" style="left:1051px;top:130px"><b>اقتصادآنلاین</b><i>EGHTESADONLINE</i></div><div class="w" style="left:1161px;top:130px"><b>اقتصادآنلاین</b><i>EGHTESADONLINE</i></div><div class="w" style="left:1271px;top:130px"><b>اقتصادآنلاین</b><i>EGHTESADONLINE</i></div><div class="w" style="left:1381px;top:130px"><b>اقتصادآنلاین</b><i>EGHTESADONLINE</i></div><div class="w" style="left:-49px;top:205px"><b>اقتصادآنلاین</b><i>EGHTESADONLINE</i></div><div class="w" style="left:61px;top:205px"><b>اقتصادآنلاین</b><i>EGHTESADONLINE</i></div><div class="w" style="left:171px;top:205px"><b>اقتصادآنلاین</b><i>EGHTESADONLINE</i></div><div class="w" style="left:281px;top:205px"><b>اقتصادآنلاین</b><i>EGHTESADONLINE</i></div><div class="w" style="left:391px;top:205px"><b>اقتصادآنلاین</b><i>EGHTESADONLINE</i></div><div class="w" style="left:501px;top:205px"><b>اقتصادآنلاین</b><i>EGHTESADONLINE</i></div><div class="w" style="left:611px;top:205px"><b>اقتصادآنلاین</b><i>EGHTESADONLINE</i></div><div class="w" style="left:721px;top:205px"><b>اقتصادآنلاین</b><i>EGHTESADONLINE</i></div><div class="w" style="left:831px;top:205px"><b>اقتصادآنلاین</b><i>EGHTESADONLINE</i></div><div class="w" style="left:941px;top:205px"><b>اقتصادآنلاین</b><i>EGHTESADONLINE</i></div><div class="w" style="left:1051px;top:205px"><b>اقتصادآنلاین</b><i>EGHTESADONLINE</i></div><div class="w" style="left:1161px;top:205px"><b>اقتصادآنلاین</b><i>EGHTESADONLINE</i></div><div class="w" style="left:1271px;top:205px"><b>اقتصادآنلاین</b><i>EGHTESADONLINE</i></div><div class="w" style="left:1381px;top:205px"><b>اقتصادآنلاین</b><i>EGHTESADONLINE</i></div><div class="w" style="left:-49px;top:280px"><b>اقتصادآنلاین</b><i>EGHTESADONLINE</i></div><div class="w" style="left:61px;top:280px"><b>اقتصادآنلاین</b><i>EGHTESADONLINE</i></div><div class="w" style="left:171px;top:280px"><b>اقتصادآنلاین</b><i>EGHTESADONLINE</i></div><div class="w" style="left:281px;top:280px"><b>اقتصادآنلاین</b><i>EGHTESADONLINE</i></div><div class="w" style="left:391px;top:280px"><b>اقتصادآنلاین</b><i>EGHTESADONLINE</i></div><div class="w" style="left:501px;top:280px"><b>اقتصادآنلاین</b><i>EGHTESADONLINE</i></div><div class="w" style="left:611px;top:280px"><b>اقتصادآنلاین</b><i>EGHTESADONLINE</i></div><div class="w" style="left:721px;top:280px"><b>اقتصادآنلاین</b><i>EGHTESADONLINE</i></div><div class="w" style="left:831px;top:280px"><b>اقتصادآنلاین</b><i>EGHTESADONLINE</i></div><div class="w" style="left:941px;top:280px"><b>اقتصادآنلاین</b><i>EGHTESADONLINE</i></div><div class="w" style="left:1051px;top:280px"><b>اقتصادآنلاین</b><i>EGHTESADONLINE</i></div><div class="w" style="left:1161px;top:280px"><b>اقتصادآنلاین</b><i>EGHTESADONLINE</i></div><div class="w" style="left:1271px;top:280px"><b>اقتصادآنلاین</b><i>EGHTESADONLINE</i></div><div class="w" style="left:1381px;top:280px"><b>اقتصادآنلاین</b><i>EGHTESADONLINE</i></div><div class="w" style="left:-49px;top:355px"><b>اقتصادآنلاین</b><i>EGHTESADONLINE</i></div><div class="w" style="left:61px;top:355px"><b>اقتصادآنلاین</b><i>EGHTESADONLINE</i></div><div class="w" style="left:171px;top:355px"><b>اقتصادآنلاین</b><i>EGHTESADONLINE</i></div><div class="w" style="left:281px;top:355px"><b>اقتصادآنلاین</b><i>EGHTESADONLINE</i></div><div class="w" style="left:391px;top:355px"><b>اقتصادآنلاین</b><i>EGHTESADONLINE</i></div><div class="w" style="left:501px;top:355px"><b>اقتصادآنلاین</b><i>EGHTESADONLINE</i></div><div class="w" style="left:611px;top:355px"><b>اقتصادآنلاین</b><i>EGHTESADONLINE</i></div><div class="w" style="left:721px;top:355px"><b>اقتصادآنلاین</b><i>EGHTESADONLINE</i></div><div class="w" style="left:831px;top:355px"><b>اقتصادآنلاین</b><i>EGHTESADONLINE</i></div><div class="w" style="left:941px;top:355px"><b>اقتصادآنلاین</b><i>EGHTESADONLINE</i></div><div class="w" style="left:1051px;top:355px"><b>اقتصادآنلاین</b><i>EGHTESADONLINE</i></div><div class="w" style="left:1161px;top:355px"><b>اقتصادآنلاین</b><i>EGHTESADONLINE</i></div><div class="w" style="left:1271px;top:355px"><b>اقتصادآنلاین</b><i>EGHTESADONLINE</i></div><div class="w" style="left:1381px;top:355px"><b>اقتصادآنلاین</b><i>EGHTESADONLINE</i></div><div class="w" style="left:-49px;top:430px"><b>اقتصادآنلاین</b><i>EGHTESADONLINE</i></div><div class="w" style="left:61px;top:430px"><b>اقتصادآنلاین</b><i>EGHTESADONLINE</i></div><div class="w" style="left:171px;top:430px"><b>اقتصادآنلاین</b><i>EGHTESADONLINE</i></div><div class="w" style="left:281px;top:430px"><b>اقتصادآنلاین</b><i>EGHTESADONLINE</i></div><div class="w" style="left:391px;top:430px"><b>اقتصادآنلاین</b><i>EGHTESADONLINE</i></div><div class="w" style="left:501px;top:430px"><b>اقتصادآنلاین</b><i>EGHTESADONLINE</i></div><div class="w" style="left:611px;top:430px"><b>اقتصادآنلاین</b><i>EGHTESADONLINE</i></div><div class="w" style="left:721px;top:430px"><b>اقتصادآنلاین</b><i>EGHTESADONLINE</i></div><div class="w" style="left:831px;top:430px"><b>اقتصادآنلاین</b><i>EGHTESADONLINE</i></div><div class="w" style="left:941px;top:430px"><b>اقتصادآنلاین</b><i>EGHTESADONLINE</i></div><div class="w" style="left:1051px;top:430px"><b>اقتصادآنلاین</b><i>EGHTESADONLINE</i></div><div class="w" style="left:1161px;top:430px"><b>اقتصادآنلاین</b><i>EGHTESADONLINE</i></div><div class="w" style="left:1271px;top:430px"><b>اقتصادآنلاین</b><i>EGHTESADONLINE</i></div><div class="w" style="left:1381px;top:430px"><b>اقتصادآنلاین</b><i>EGHTESADONLINE</i></div><div class="w" style="left:-49px;top:505px"><b>اقتصادآنلاین</b><i>EGHTESADONLINE</i></div><div class="w" style="left:61px;top:505px"><b>اقتصادآنلاین</b><i>EGHTESADONLINE</i></div><div class="w" style="left:171px;top:505px"><b>اقتصادآنلاین</b><i>EGHTESADONLINE</i></div><div class="w" style="left:281px;top:505px"><b>اقتصادآنلاین</b><i>EGHTESADONLINE</i></div><div class="w" style="left:391px;top:505px"><b>اقتصادآنلاین</b><i>EGHTESADONLINE</i></div><div class="w" style="left:501px;top:505px"><b>اقتصادآنلاین</b><i>EGHTESADONLINE</i></div><div class="w" style="left:611px;top:505px"><b>اقتصادآنلاین</b><i>EGHTESADONLINE</i></div><div class="w" style="left:721px;top:505px"><b>اقتصادآنلاین</b><i>EGHTESADONLINE</i></div><div class="w" style="left:831px;top:505px"><b>اقتصادآنلاین</b><i>EGHTESADONLINE</i></div><div class="w" style="left:941px;top:505px"><b>اقتصادآنلاین</b><i>EGHTESADONLINE</i></div><div class="w" style="left:1051px;top:505px"><b>اقتصادآنلاین</b><i>EGHTESADONLINE</i></div><div class="w" style="left:1161px;top:505px"><b>اقتصادآنلاین</b><i>EGHTESADONLINE</i></div><div class="w" style="left:1271px;top:505px"><b>اقتصادآنلاین</b><i>EGHTESADONLINE</i></div><div class="w" style="left:1381px;top:505px"><b>اقتصادآنلاین</b><i>EGHTESADONLINE</i></div><div class="w" style="left:-49px;top:580px"><b>اقتصادآنلاین</b><i>EGHTESADONLINE</i></div><div class="w" style="left:61px;top:580px"><b>اقتصادآنلاین</b><i>EGHTESADONLINE</i></div><div class="w" style="left:171px;top:580px"><b>اقتصادآنلاین</b><i>EGHTESADONLINE</i></div><div class="w" style="left:281px;top:580px"><b>اقتصادآنلاین</b><i>EGHTESADONLINE</i></div><div class="w" style="left:391px;top:580px"><b>اقتصادآنلاین</b><i>EGHTESADONLINE</i></div><div class="w" style="left:501px;top:580px"><b>اقتصادآنلاین</b><i>EGHTESADONLINE</i></div><div class="w" style="left:611px;top:580px"><b>اقتصادآنلاین</b><i>EGHTESADONLINE</i></div><div class="w" style="left:721px;top:580px"><b>اقتصادآنلاین</b><i>EGHTESADONLINE</i></div><div class="w" style="left:831px;top:580px"><b>اقتصادآنلاین</b><i>EGHTESADONLINE</i></div><div class="w" style="left:941px;top:580px"><b>اقتصادآنلاین</b><i>EGHTESADONLINE</i></div><div class="w" style="left:1051px;top:580px"><b>اقتصادآنلاین</b><i>EGHTESADONLINE</i></div><div class="w" style="left:1161px;top:580px"><b>اقتصادآنلاین</b><i>EGHTESADONLINE</i></div><div class="w" style="left:1271px;top:580px"><b>اقتصادآنلاین</b><i>EGHTESADONLINE</i></div><div class="w" style="left:1381px;top:580px"><b>اقتصادآنلاین</b><i>EGHTESADONLINE</i></div></div>
<div id="aw1">Activate Windows</div>
<div id="aw2">Go to Settings to activate Windows.</div>
</div>
</body>
</html>
